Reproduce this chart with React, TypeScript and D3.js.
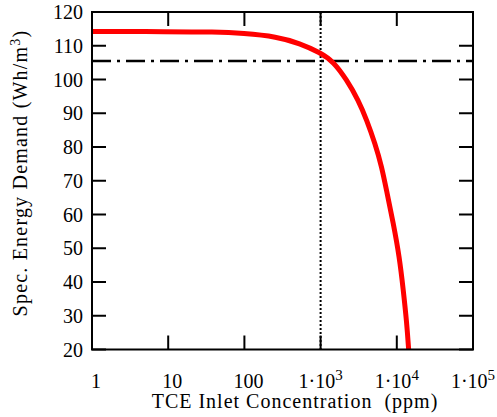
import React from 'react';
import * as d3 from 'd3';

// TCE inlet concentration (ppm) and specific energy demand (Wh/m3)
const concentration = [1, 10, 41, 96, 267, 536, 982, 1480, 2200, 3130, 4030, 5170, 6340, 7450, 9000, 10800, 12170, 13500, 14300];
const demand = [114.2, 114.2, 114.1, 113.7, 112.7, 110.7, 108.0, 105.3, 99.9, 93.9, 88.0, 81.1, 74.2, 66.3, 57.4, 47.5, 37.6, 28, 20];

const xTicks = [1, 10, 100, 1000, 10000, 100000];
const xTickLabels = ['1', '10', '100', '1·10', '1·10', '1·10'];
const xTickExp = ['', '', '', '3', '4', '5'];
const yTicks = [20, 30, 40, 50, 60, 70, 80, 90, 100, 110, 120];

const limitDemand = 105.5;
const limitConcentration = 1000;

const App = () => {
    const width = 497;
    const height = 417;
    const margin = { top: 12, right: 24, bottom: 67.5, left: 92 };
    const innerW = width - margin.left - margin.right;
    const innerH = height - margin.top - margin.bottom;

    const x = d3.scaleLog().domain([1, 100000]).range([0, innerW]);
    const y = d3.scaleLinear().domain([20, 120]).range([innerH, 0]);

    const points = concentration.map((c, i) => [c, demand[i]] as [number, number]);
    // the readings are a bit noisy, so smooth them a little
    const line = d3.line<[number, number]>()
        .x(d => x(d[0]))
        .y(d => y(d[1]))
        .curve(d3.curveBasis);

    const tickLen = 14;
    const font = '"Liberation Serif", "Times New Roman", serif';

    return (
        <svg width={width} height={height} style={{ position: 'absolute', left: 0, top: 0 }}>
            <rect width={width} height={height} fill="#fff" />
            <g transform={`translate(${margin.left},${margin.top})`}>
                {/* ticks on all four sides, pointing inward */}
                {yTicks.map(t => (
                    <g key={'y' + t} stroke="#000" strokeWidth={2}>
                        <line x1={0} x2={tickLen} y1={y(t)} y2={y(t)} />
                        <line x1={innerW} x2={innerW - tickLen} y1={y(t)} y2={y(t)} />
                    </g>
                ))}
                {xTicks.map(t => (
                    <g key={'x' + t} stroke="#000" strokeWidth={2}>
                        <line x1={x(t)} x2={x(t)} y1={innerH} y2={innerH - tickLen} />
                        <line x1={x(t)} x2={x(t)} y1={0} y2={tickLen} />
                    </g>
                ))}

                {/* reference lines */}
                <line x1={0} x2={innerW} y1={y(limitDemand)} y2={y(limitDemand)}
                    stroke="#000" strokeWidth={2.5} strokeDasharray="19,6,3,6" />
                <line x1={x(limitConcentration)} x2={x(limitConcentration)} y1={0} y2={innerH}
                    stroke="#000" strokeWidth={2} strokeDasharray="2,2" />

                <path d={line(points) || ''} fill="none" stroke="#ff0000" strokeWidth={5} />

                <rect x={0} y={0} width={innerW} height={innerH} fill="none" stroke="#000" strokeWidth={2} />

                {yTicks.map(t => (
                    <text key={'yl' + t} x={-9} y={y(t)} dy="0.36em" textAnchor="end"
                        fontFamily={font} fontSize={20} fill="#000">{t}</text>
                ))}
                {xTicks.map((t, i) => (
                    <text key={'xl' + t} x={x(t) + (xTickExp[i] ? 0 : 4)} y={innerH + 38.5} textAnchor="middle"
                        fontFamily={font} fontSize={20} fill="#000">
                        {xTickLabels[i]}
                        {xTickExp[i] && <tspan dy={-8} fontSize={15}>{xTickExp[i]}</tspan>}
                    </text>
                ))}

                <text x={203} y={innerH + 58.5} textAnchor="middle" letterSpacing={1}
                    fontFamily={font} fontSize={20} fill="#000" xmlSpace="preserve">
                    TCE Inlet Concentration  (ppm)
                </text>
                <text transform={`translate(${-65},${161}) rotate(-90)`} textAnchor="middle" letterSpacing={1.2}
                    fontFamily={font} fontSize={20} fill="#000">
                    Spec. Energy Demand (Wh/m<tspan dy={-7} fontSize={14}>3</tspan><tspan dy={7}>)</tspan>
                </text>
            </g>
        </svg>
    );
};

export default App;
